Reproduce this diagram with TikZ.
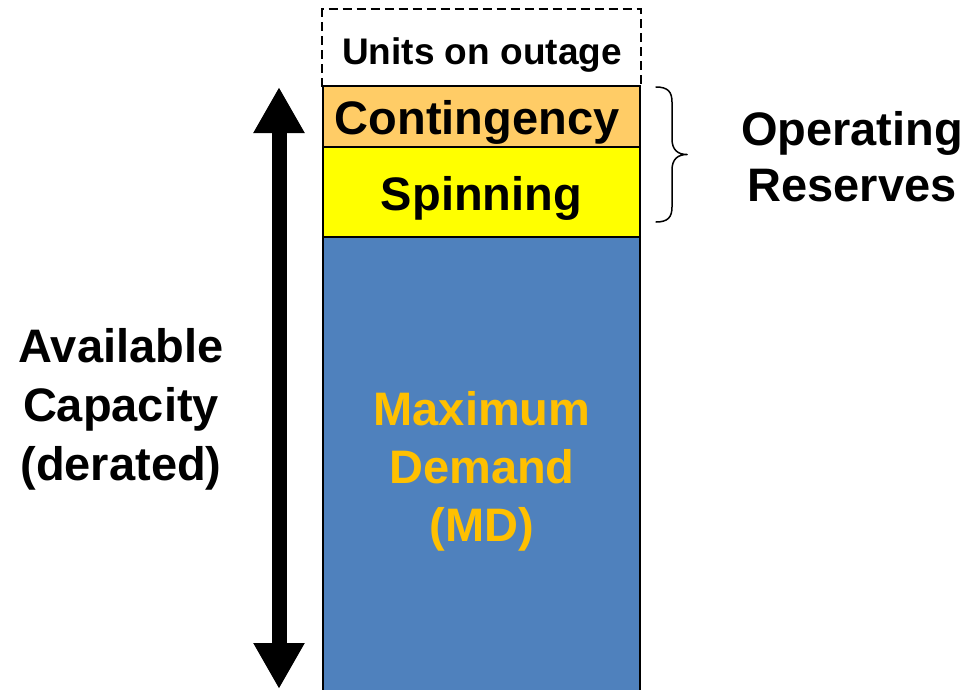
\documentclass[tikz,border=0pt]{standalone}
\usepackage{fontspec}
\setmainfont{Liberation Sans}
\usetikzlibrary{arrows.meta}
\definecolor{mdblue}{HTML}{4F81BD}
\definecolor{contorange}{HTML}{FFCC66}
\definecolor{spinyellow}{HTML}{FFFF00}
\definecolor{mdgold}{HTML}{FFC000}
\begin{document}
\begin{tikzpicture}[x=1pt,y=-1pt,
  blockbox/.style={rectangle, inner sep=0pt, minimum width=317pt, line width=1.6pt},
  lbl/.style={inner sep=0pt, anchor=base, align=center, font=\bfseries\fontsize{47}{58}\selectfont},
  bigarrow/.style={line width=15pt, {Triangle[length=46pt,width=48pt]}-{Triangle[length=46pt,width=48pt]}},
  bracestyle/.style={line width=1.5pt, line cap=round, line join=round}
]
\clip (0,0) rectangle (969,689);
\fill[white] (0,0) rectangle (969,689);

% blocks
\node[blockbox, fill=mdblue, draw=black, minimum height=483pt] (md) at (481.5,478.5) {};
\node[blockbox, fill=spinyellow, draw=black, minimum height=90pt] (spin) at (481.5,192) {};
\node[blockbox, fill=contorange, draw=black, minimum height=61pt] (cont) at (481.5,116.5) {};
\node[blockbox, minimum height=76pt] (outage) at (481.5,48) {};
\draw[line width=1.8pt, dash pattern=on 9pt off 5pt]
  (outage.south west) -- (outage.north west) -- (outage.north east) -- (outage.south east);

% texts in blocks (base anchor = baseline of the last line)
\node[lbl, font=\bfseries\fontsize{37}{44}\selectfont] (tunits) at (482,64) {Units on outage};
\node[lbl] (tcont) at (477,134) {Contingency};
\node[lbl] (tspin) at (481.5,210) {Spinning};
\node[lbl, text=mdgold] (tmd) at (482,541) {Maximum\\Demand\\(MD)};

% arrow
\coordinate (atop) at (279,87);
\coordinate (abot) at (279,689);
\draw[bigarrow] (abot) -- (atop);
\node[lbl, font=\bfseries\fontsize{47}{59}\selectfont] (tavail) at (121,480) {Available\\Capacity\\(derated)};

% brace
\coordinate (brtop) at (656,87);
\coordinate (brbot) at (656,222);
\coordinate (brtip) at (687,154.5);
\draw[bracestyle] (brtop) .. controls (668,87) and (672,92) .. (672,102)
  -- (672,139) .. controls (672,150) and (678,154.5) .. (brtip)
  .. controls (678,154.5) and (672,159) .. (672,170)
  -- (672,207) .. controls (672,217) and (668,222) .. (brbot);
\node[lbl, font=\bfseries\fontsize{47}{56}\selectfont] (tres) at (852,201) {Operating\\Reserves};
\end{tikzpicture}
\end{document}
